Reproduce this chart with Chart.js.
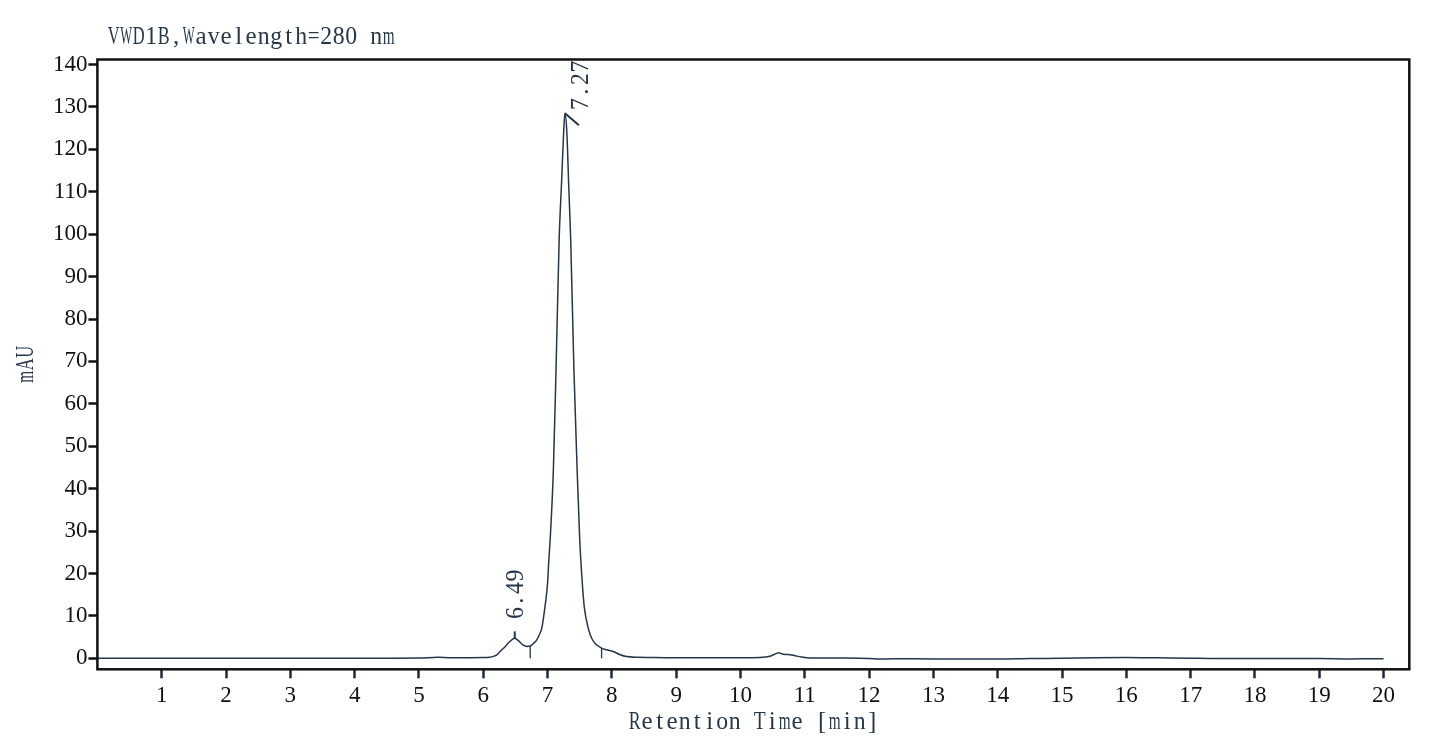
<!DOCTYPE html>
<html>
<head>
<meta charset="utf-8">
<script src="https://cdn.jsdelivr.net/npm/chart.js@4.4.1/dist/chart.umd.min.js"></script>
<style>
  html, body { margin: 0; padding: 0; background: #fff; }
  canvas { display: block; }
</style>
</head>
<body>
<canvas id="chrom" width="1445" height="743"></canvas>
<script>
// retention time [min] and signal [mAU]
const times = [
  0, 0.5, 1, 2, 3, 4, 4.5, 5.0, 5.3, 5.5, 5.8, 6.0, 6.1, 6.16, 6.21, 6.25, 6.31, 6.34,
  6.38, 6.44, 6.49, 6.55, 6.62, 6.68, 6.73, 6.78, 6.83, 6.87, 6.91, 6.96, 7.0, 7.02,
  7.04, 7.09, 7.13, 7.18, 7.22, 7.25, 7.27, 7.30, 7.33, 7.36, 7.41, 7.46, 7.50, 7.53,
  7.57, 7.64, 7.69, 7.74, 7.84, 7.92, 8.02, 8.12, 8.23, 8.4, 8.6, 8.9, 9.5, 10.0, 10.3,
  10.46, 10.55, 10.59, 10.65, 10.72, 10.77, 10.85, 10.95, 11.03, 11.5, 12.0, 12.17, 12.4,
  13, 14, 14.5, 15, 15.5, 16, 16.5, 17, 17.3, 18, 19, 19.5, 19.8, 20.0
];
const absorbance = [
  0, 0, 0, 0, 0, 0, 0.02, 0.05, 0.25, 0.1, 0.15, 0.2, 0.25, 0.45, 0.8, 1.4, 2.3, 2.7,
  3.5, 4.3, 4.7, 4.1, 3.1, 2.8, 2.9, 3.5, 4.3, 5.5, 7.1, 12.2, 17.7, 23.2,
  27.9, 44.3, 67, 98.6, 113, 124, 128.5, 124, 111, 98.6, 68, 44.3, 28, 20,
  12.2, 6.7, 4.6, 3.5, 2.4, 2.0, 1.6, 0.9, 0.4, 0.25, 0.2, 0.15, 0.15, 0.15, 0.2,
  0.5, 1.1, 1.3, 1.0, 0.9, 0.85, 0.6, 0.3, 0.15, 0.05, -0.05, -0.2, -0.1,
  -0.15, -0.15, -0.05, 0.0, 0.15, 0.2, 0.1, 0.0, -0.05, -0.05, -0.05, -0.15, -0.1, -0.1
];

const xTicks = [1, 2, 3, 4, 5, 6, 7, 8, 9, 10, 11, 12, 13, 14, 15, 16, 17, 18, 19, 20];
const yTicks = [0, 10, 20, 30, 40, 50, 60, 70, 80, 90, 100, 110, 120, 130, 140];

// labelled peaks and integration drop lines
const peakTimes = [6.49, 7.27];
const peakHeights = [4.7, 128.5];
const peakLabels = ['6.49', '7.27'];
const dropTimes = [6.73, 7.84];
const dropHeights = [2.9, 2.4];

const headerText = 'VWD1B,Wavelength=280 nm';
const xTitle = 'Retention Time [min]';
const yTitle = 'mAU';

const lineColor = '#25354a';
const textColor = '#27374a';
const cellFont = '25px "Liberation Serif"';
const cell = 12.5;

// draw text in fixed-width cells, squeezing wide glyphs (looks like SimSun)
function cellText(ctx, str, x, y) {
  ctx.font = cellFont;
  ctx.textAlign = 'center';
  ctx.textBaseline = 'alphabetic';
  for (let i = 0; i < str.length; i++) {
    const ch = str[i];
    const w = ctx.measureText(ch).width;
    const s = w > cell * 0.95 ? cell * 0.95 / w : 1;
    ctx.save();
    ctx.translate(x + cell * i + cell / 2, y);
    ctx.scale(s, 1);
    ctx.fillText(ch, 0, 0);
    ctx.restore();
  }
}

function rotatedText(ctx, str, baseX, startY) {
  ctx.save();
  ctx.translate(baseX, startY);
  ctx.rotate(-Math.PI / 2);
  cellText(ctx, str, 0, 0);
  ctx.restore();
}

const annotate = {
  id: 'annotate',
  afterDraw(chart) {
    const {ctx, chartArea: a, scales: {x, y}} = chart;
    ctx.save();

    // frame
    ctx.strokeStyle = '#111';
    ctx.lineWidth = 2.5;
    ctx.strokeRect(a.left, a.top, a.right - a.left, a.bottom - a.top);

    // drop lines
    ctx.strokeStyle = lineColor;
    ctx.lineWidth = 1.3;
    for (let i = 0; i < dropTimes.length; i++) {
      const px = x.getPixelForValue(dropTimes[i]);
      ctx.beginPath();
      ctx.moveTo(px, y.getPixelForValue(0));
      ctx.lineTo(px, y.getPixelForValue(dropHeights[i]));
      ctx.stroke();
    }

    // peak markers + labels
    ctx.fillStyle = textColor;
    ctx.lineWidth = 2;
    // small peak: vertical tick, label straight above
    let px = x.getPixelForValue(peakTimes[0]);
    let py = y.getPixelForValue(peakHeights[0]);
    ctx.beginPath();
    ctx.moveTo(px, py);
    ctx.lineTo(px, py - 7);
    ctx.stroke();
    rotatedText(ctx, peakLabels[0], px + 8, py - 19);
    // main peak: slanted tick, label pushed to the right
    px = x.getPixelForValue(peakTimes[1]);
    py = y.getPixelForValue(peakHeights[1]);
    ctx.beginPath();
    ctx.moveTo(px, py);
    ctx.lineTo(px + 14, py + 12);
    ctx.stroke();
    rotatedText(ctx, peakLabels[1], px + 23, py - 3);

    // texts
    cellText(ctx, headerText, a.left + 10, a.top - 16);
    const cx = (a.left + a.right) / 2 - xTitle.length * cell / 2;
    cellText(ctx, xTitle, cx, 729);
    rotatedText(ctx, yTitle, 33, (a.top + a.bottom) / 2 + yTitle.length * cell / 2);

    ctx.restore();
  }
};

const tickFont = {family: '"Liberation Serif"', size: 23};

new Chart(document.getElementById('chrom'), {
  type: 'line',
  data: {
    datasets: [{
      data: times.map((t, i) => ({x: t, y: absorbance[i]})),
      borderColor: lineColor,
      borderWidth: 1.5,
      pointRadius: 0,
      fill: false,
      cubicInterpolationMode: 'monotone'
    }]
  },
  options: {
    responsive: false,
    animation: false,
    layout: {padding: {top: 59.5, right: 35.7, left: 0, bottom: 0}},
    plugins: {legend: {display: false}, tooltip: {enabled: false}},
    scales: {
      x: {
        type: 'linear',
        min: 0,
        max: 20.4,
        afterBuildTicks: s => { s.ticks = xTicks.map(v => ({value: v})); },
        afterFit: s => { s.height = 73.7; },
        grid: {drawOnChartArea: false, tickLength: 9, tickColor: '#1e2a38', tickWidth: 2.5},
        border: {display: false},
        ticks: {autoSkip: false, maxRotation: 0, padding: 4, color: '#111', font: tickFont}
      },
      y: {
        min: -2.6,
        max: 141.2,
        afterBuildTicks: s => { s.ticks = yTicks.map(v => ({value: v})); },
        afterFit: s => { s.width = 97.4; },
        grid: {drawOnChartArea: false, tickLength: 9, tickColor: '#111', tickWidth: 2.5},
        border: {display: false},
        ticks: {padding: 1, color: '#111', font: tickFont}
      }
    }
  },
  plugins: [annotate]
});
</script>
</body>
</html>
